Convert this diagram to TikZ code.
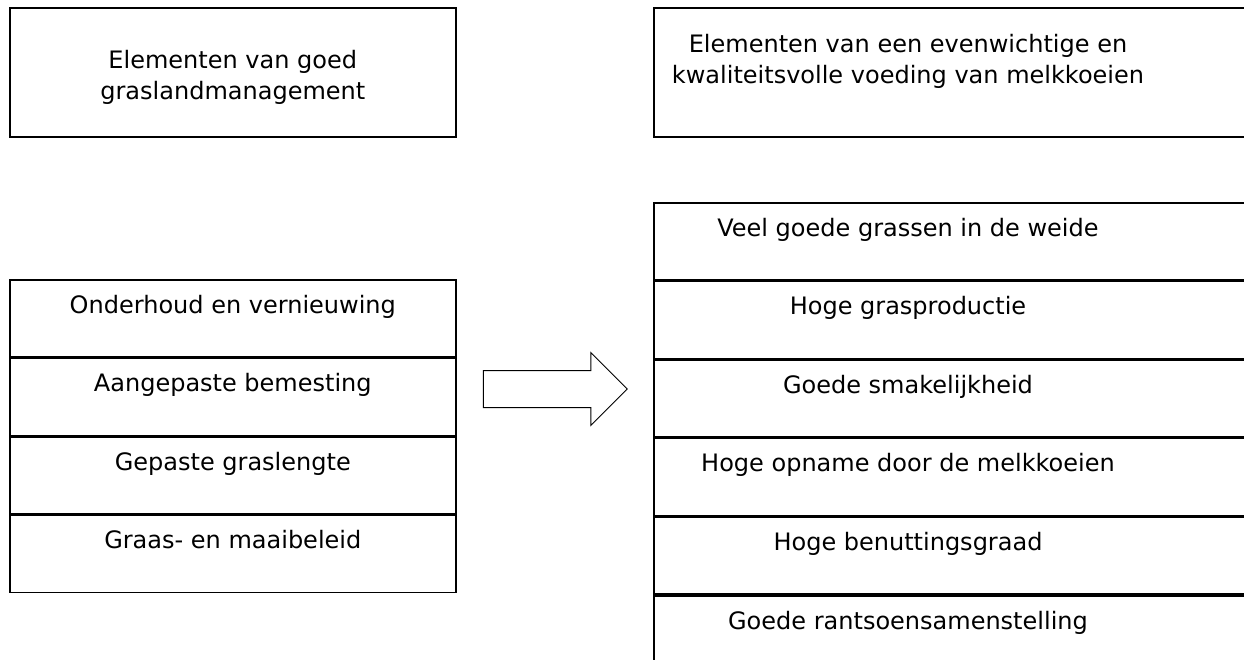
\documentclass[tikz,border=0pt]{standalone}
\usepackage{fontspec}
\setmainfont{DejaVu Sans}
\usetikzlibrary {shapes.arrows,positioning}

\tikzset{
  box/.style   = {draw, line width=1.6pt, rectangle, inner sep=0pt, anchor=north west},
  lcell/.style = {box, minimum width=446pt, minimum height=77pt},
  rcell/.style = {box, minimum width=620pt, minimum height=77pt},
  txt/.style   = {font=\fontsize{24}{31}\selectfont, align=center, inner sep=0pt, anchor=base},
}

\begin{document}
\begin{tikzpicture}[x=1pt,y=-1pt]
  \useasboundingbox (0,0) rectangle (1244,659);
  \clip (0,0) rectangle (1244,659);

  % headers
  \node [box, minimum width=446pt, minimum height=129pt] (hl) at (9,7)   {};
  \node [box, minimum width=620pt, minimum height=129pt] (hr) at (653,7) {};
  \node [txt] (thl) at ([yshift=-92pt]hl.north)
    {Elementen van goed\\graslandmanagement};
  \node [txt] (thr) at ([xshift=255pt,yshift=-76pt]hr.north west)
    {Elementen van een evenwichtige en\\kwaliteitsvolle voeding van melkkoeien};

  % left column
  \node [lcell] (l1) at (9,279) {};
  \node [lcell] (l2) [below=0pt of l1] {};
  \node [lcell] (l3) [below=0pt of l2] {};
  \node [lcell] (l4) [below=0pt of l3] {};
  \node [txt] (tl1) at ([yshift=-34pt]l1.north) {Onderhoud en vernieuwing};
  \node [txt] (tl2) at ([yshift=-34pt]l2.north) {Aangepaste bemesting};
  \node [txt] (tl3) at ([yshift=-34pt]l3.north) {Gepaste graslengte};
  \node [txt] (tl4) at ([yshift=-34pt]l4.north) {Graas- en maaibeleid};

  % right column
  \node [rcell] (r1) at (653,202) {};
  \node [rcell] (r2) [below=0pt of r1] {};
  \node [rcell] (r3) [below=0pt of r2] {};
  \node [rcell] (r4) [below=0pt of r3] {};
  \node [rcell] (r5) [below=0pt of r4] {};
  \node [rcell] (r6) [below=0pt of r5] {};
  \node [txt] (tr1) at ([xshift=255pt,yshift=-34pt]r1.north west) {Veel goede grassen in de weide};
  \node [txt] (tr2) at ([xshift=255pt,yshift=-34pt]r2.north west) {Hoge grasproductie};
  \node [txt] (tr3) at ([xshift=255pt,yshift=-34pt]r3.north west) {Goede smakelijkheid};
  \node [txt] (tr4) at ([xshift=255pt,yshift=-34pt]r4.north west) {Hoge opname door de melkkoeien};
  \node [txt] (tr5) at ([xshift=255pt,yshift=-34pt]r5.north west) {Hoge benuttingsgraad};
  \node [txt] (tr6) at ([xshift=255pt,yshift=-34pt]r6.north west) {Goede rantsoensamenstelling};

  % arrow
  \node [single arrow, draw, line width=1pt, inner xsep=0pt, inner ysep=18pt,
         minimum height=144pt, single arrow head extend=18pt] (pijl) at (546,389) {};
\end{tikzpicture}
\end{document}
